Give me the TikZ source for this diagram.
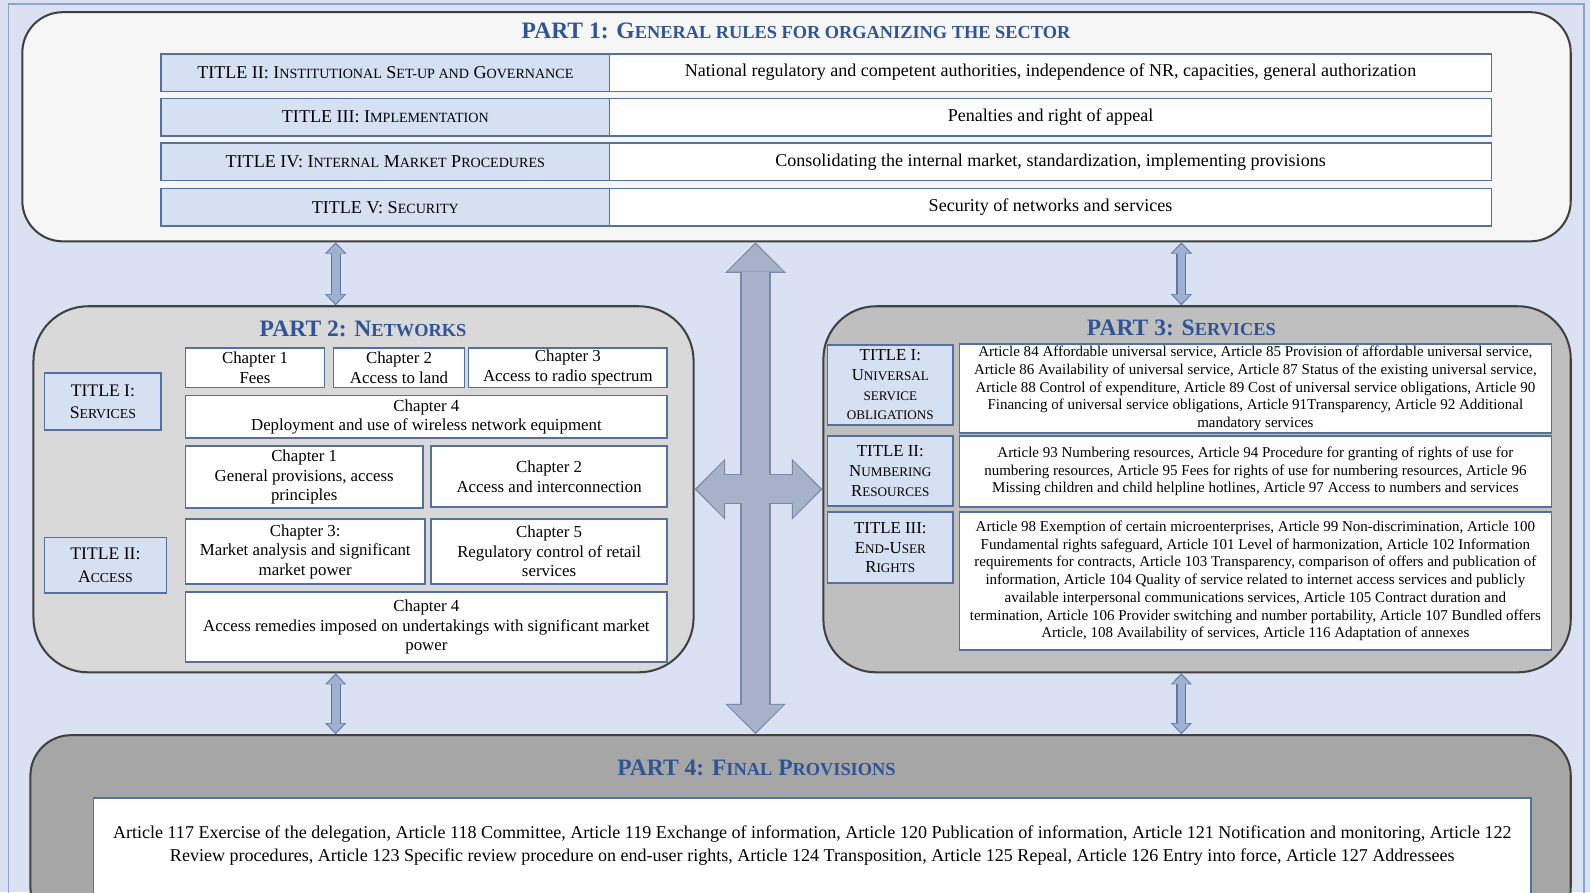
\documentclass[tikz,border=0pt]{standalone}
\usepackage{fontspec}
\setmainfont{Liberation Serif}
\usetikzlibrary{arrows.meta}
\definecolor{bgblue}{RGB}{217,225,242}
\definecolor{frameblue}{RGB}{143,164,204}
\definecolor{titleblue}{RGB}{47,85,151}
\definecolor{cellline}{RGB}{84,112,158}
\definecolor{cellblue}{RGB}{214,224,243}
\definecolor{partline}{RGB}{64,64,64}
\definecolor{grayA}{RGB}{246,246,246}
\definecolor{grayB}{RGB}{217,217,217}
\definecolor{grayC}{RGB}{191,191,191}
\definecolor{grayD}{RGB}{166,166,166}
\definecolor{arrowfill}{RGB}{167,178,202}
\definecolor{arrowline}{RGB}{122,137,168}
\definecolor{linkfill}{RGB}{160,176,208}
\definecolor{linkline}{RGB}{92,118,166}
\makeatletter
\newcommand\lowcap[1]{{\fontsize{\the\dimexpr0.78\dimexpr\f@size pt\relax\relax}{\f@baselineskip}\selectfont #1}}
\makeatother
\tikzset{wh/.style 2 args={minimum width=#1*0.5pt,minimum height=#2*0.5pt}}
\tikzset{partbox/.style={draw=partline,line width=1pt,rounded corners=#1}}
\tikzset{cell/.style={draw=cellline,line width=0.75pt,inner sep=1pt,align=center}}
\tikzset{headcell/.style={cell,fill=cellblue},bodycell/.style={cell,fill=white}}
\tikzset{ptitle/.style={text=titleblue,font=\fontsize{11.6}{13}\selectfont\bfseries}}
\tikzset{rowfont/.style={font=\fontsize{8.9}{11}\selectfont}}
\tikzset{chapfont/.style={font=\fontsize{8.3}{9.6}\selectfont}}
\tikzset{netfont/.style={font=\fontsize{8.7}{11}\selectfont}}
\tikzset{servfont/.style={font=\fontsize{8.3}{9.75}\selectfont}}
\tikzset{artfont/.style={font=\fontsize{7.4}{8.75}\selectfont}}
\tikzset{linkout/.style={draw=linkline,line width=5pt,{Triangle[width=10.5pt,length=5.5pt,line width=0pt]}-{Triangle[width=10.5pt,length=5.5pt,line width=0pt]}}}
\tikzset{linkin/.style={draw=linkfill,line width=3.8pt,shorten <=0.8pt,shorten >=0.8pt,{Triangle[width=8.6pt,length=4.4pt,line width=0pt]}-{Triangle[width=8.6pt,length=4.4pt,line width=0pt]}}}
\tikzset{bigout/.style={draw=arrowline,line width=15pt,{Triangle[width=30pt,length=15pt,line width=0pt]}-{Triangle[width=30pt,length=15pt,line width=0pt]}}}
\tikzset{bigin/.style={draw=arrowfill,line width=13.6pt,shorten <=1pt,shorten >=1pt,{Triangle[width=27.6pt,length=13.4pt,line width=0pt]}-{Triangle[width=27.6pt,length=13.4pt,line width=0pt]}}}
\begin{document}
\begin{tikzpicture}[x=0.5pt,y=-0.5pt]
\fill[bgblue,use as bounding box] (0,0) rectangle (1568,880);
\clip (0,0) rectangle (1568,880);
\draw[frameblue,line width=0.6pt] (8,4) rectangle (1562,895);

\node[partbox=20pt,fill=grayA,wh={1527}{226}] (part1) at (785.5,125) {};
\node[partbox=27pt,fill=grayB,wh={651}{361}] (part2) at (358.5,482.5) {};
\node[partbox=26pt,fill=grayC,wh={737}{361}] (part3) at (1180.5,482.5) {};
\node[partbox=20pt,fill=grayD,wh={1519}{190}] (part4) at (789.5,820) {};

\coordinate (xl) at (331,0);
\coordinate (xm) at (745,0);
\coordinate (xr) at (1165,0);
\draw[linkout] (part1.south -| xl) -- (part2.north -| xl);
\draw[linkin] (part1.south -| xl) -- (part2.north -| xl);
\draw[linkout] (part1.south -| xr) -- (part3.north -| xr);
\draw[linkin] (part1.south -| xr) -- (part3.north -| xr);
\draw[linkout] (part2.south -| xl) -- (part4.north -| xl);
\draw[linkin] (part2.south -| xl) -- (part4.north -| xl);
\draw[linkout] (part3.south -| xr) -- (part4.north -| xr);
\draw[linkin] (part3.south -| xr) -- (part4.north -| xr);
\draw[bigout] (part1.south -| xm) -- (part4.north -| xm);
\draw[bigout] (part2.east) -- (part3.west);
\draw[bigin] (part1.south -| xm) -- (part4.north -| xm);
\draw[bigin] (part2.east) -- (part3.west);

\node[ptitle] (p1t) at (785,30) {PART 1: G\lowcap{ENERAL RULES FOR ORGANIZING THE SECTOR}};
\node[headcell,rowfont,wh={442}{37}] (gov) at (380,71.5) {TITLE II: I\lowcap{NSTITUTIONAL} S\lowcap{ET-UP AND} G\lowcap{OVERNANCE}};
\node[headcell,rowfont,wh={442}{37}] (impl) at (380,115.5) {TITLE III: I\lowcap{MPLEMENTATION}};
\node[headcell,rowfont,wh={442}{37}] (proc) at (380,159.5) {TITLE IV: I\lowcap{NTERNAL} M\lowcap{ARKET} P\lowcap{ROCEDURES}};
\node[headcell,rowfont,wh={442}{37}] (secu) at (380,204.5) {TITLE V: S\lowcap{ECURITY}};
\node[bodycell,rowfont,wh={870}{37}] (govtxt) at (1036,71.5) {National regulatory and competent authorities, independence of NR, capacities, general authorization};
\node[bodycell,rowfont,wh={870}{37}] (impltxt) at (1036,115.5) {Penalties and right of appeal};
\node[bodycell,rowfont,wh={870}{37}] (proctxt) at (1036,159.5) {Consolidating the internal market, standardization, implementing provisions};
\node[bodycell,rowfont,wh={870}{37}] (secutxt) at (1036,204.5) {Security of networks and services};

\node[ptitle] (p2t) at (358,324) {PART 2: N\lowcap{ETWORKS}};
\node[headcell,netfont,wh={115}{56}] (nserv) at (101.5,396) {TITLE I:\\S\lowcap{ERVICES}};
\node[headcell,netfont,wh={120}{55}] (nacc) at (104,557.5) {TITLE II:\\A\lowcap{CCESS}};
\node[bodycell,chapfont,wh={137}{39}] (fees) at (251.5,362.5) {Chapter 1\\Fees};
\node[bodycell,chapfont,wh={129}{39}] (land) at (393.5,362.5) {Chapter 2\\Access to land};
\node[bodycell,chapfont,wh={196}{39}] (radio) at (560,362.5) {Chapter 3\\Access to radio spectrum};
\node[bodycell,chapfont,wh={475}{42}] (wless) at (420.5,411) {Chapter 4\\Deployment and use of wireless network equipment};
\node[bodycell,chapfont,wh={234}{61}] (gen) at (300,470.5) {Chapter 1\\General provisions, access\\principles};
\node[bodycell,chapfont,wh={233}{60}] (inter) at (541.5,470) {Chapter 2\\Access and interconnection};
\node[bodycell,chapfont,wh={236}{64}] (mkt) at (301,544) {Chapter 3:\\Market analysis and significant\\market power};
\node[bodycell,chapfont,wh={233}{64}] (retail) at (541.5,544) {Chapter 5\\Regulatory control of retail\\services};
\node[bodycell,chapfont,wh={475}{69}] (remed) at (420.5,618.5) {Chapter 4\\Access remedies imposed on undertakings with significant market\\power};

\node[ptitle] (p3t) at (1165,323) {PART 3: S\lowcap{ERVICES}};
\node[headcell,servfont,wh={124}{79}] (univ) at (878,379.5) {TITLE I:\\U\lowcap{NIVERSAL}\\\lowcap{SERVICE}\\\lowcap{OBLIGATIONS}};
\node[headcell,servfont,wh={124}{69}] (numb) at (878,464.5) {TITLE II:\\N\lowcap{UMBERING}\\R\lowcap{ESOURCES}};
\node[headcell,servfont,wh={124}{70}] (user) at (878,540) {TITLE III:\\E\lowcap{ND}-U\lowcap{SER}\\R\lowcap{IGHTS}};
\node[bodycell,artfont,wh={584}{86}] (univtxt) at (1238,383) {Article 84 Affordable universal service, Article 85 Provision of affordable universal service,\\Article 86 Availability of universal service, Article 87 Status of the existing universal service,\\Article 88 Control of expenditure, Article 89 Cost of universal service obligations, Article 90\\Financing of universal service obligations, Article 91Transparency, Article 92 Additional\\mandatory services};
\node[bodycell,artfont,wh={584}{70}] (numbtxt) at (1238,465) {Article 93 Numbering resources, Article 94 Procedure for granting of rights of use for\\numbering resources, Article 95 Fees for rights of use for numbering resources, Article 96\\Missing children and child helpline hotlines, Article 97 Access to numbers and services};
\node[bodycell,artfont,wh={584}{136}] (usertxt) at (1238,573) {Article 98 Exemption of certain microenterprises, Article 99 Non-discrimination, Article 100\\Fundamental rights safeguard, Article 101 Level of harmonization, Article 102 Information\\requirements for contracts, Article 103 Transparency, comparison of offers and publication of\\information, Article 104 Quality of service related to internet access services and publicly\\available interpersonal communications services, Article 105 Contract duration and\\termination, Article 106 Provider switching and number portability, Article 107 Bundled offers\\Article, 108 Availability of services, Article 116 Adaptation of annexes};

\node[ptitle] (p4t) at (746,757) {PART 4: F\lowcap{INAL} P\lowcap{ROVISIONS}};
\node[bodycell,rowfont,wh={1418}{94}] (final) at (801,834) {Article 117 Exercise of the delegation, Article 118 Committee, Article 119 Exchange of information, Article 120 Publication of information, Article 121 Notification and monitoring, Article 122\\Review procedures, Article 123 Specific review procedure on end-user rights, Article 124 Transposition, Article 125 Repeal, Article 126 Entry into force, Article 127 Addressees};
\end{tikzpicture}
\end{document}
